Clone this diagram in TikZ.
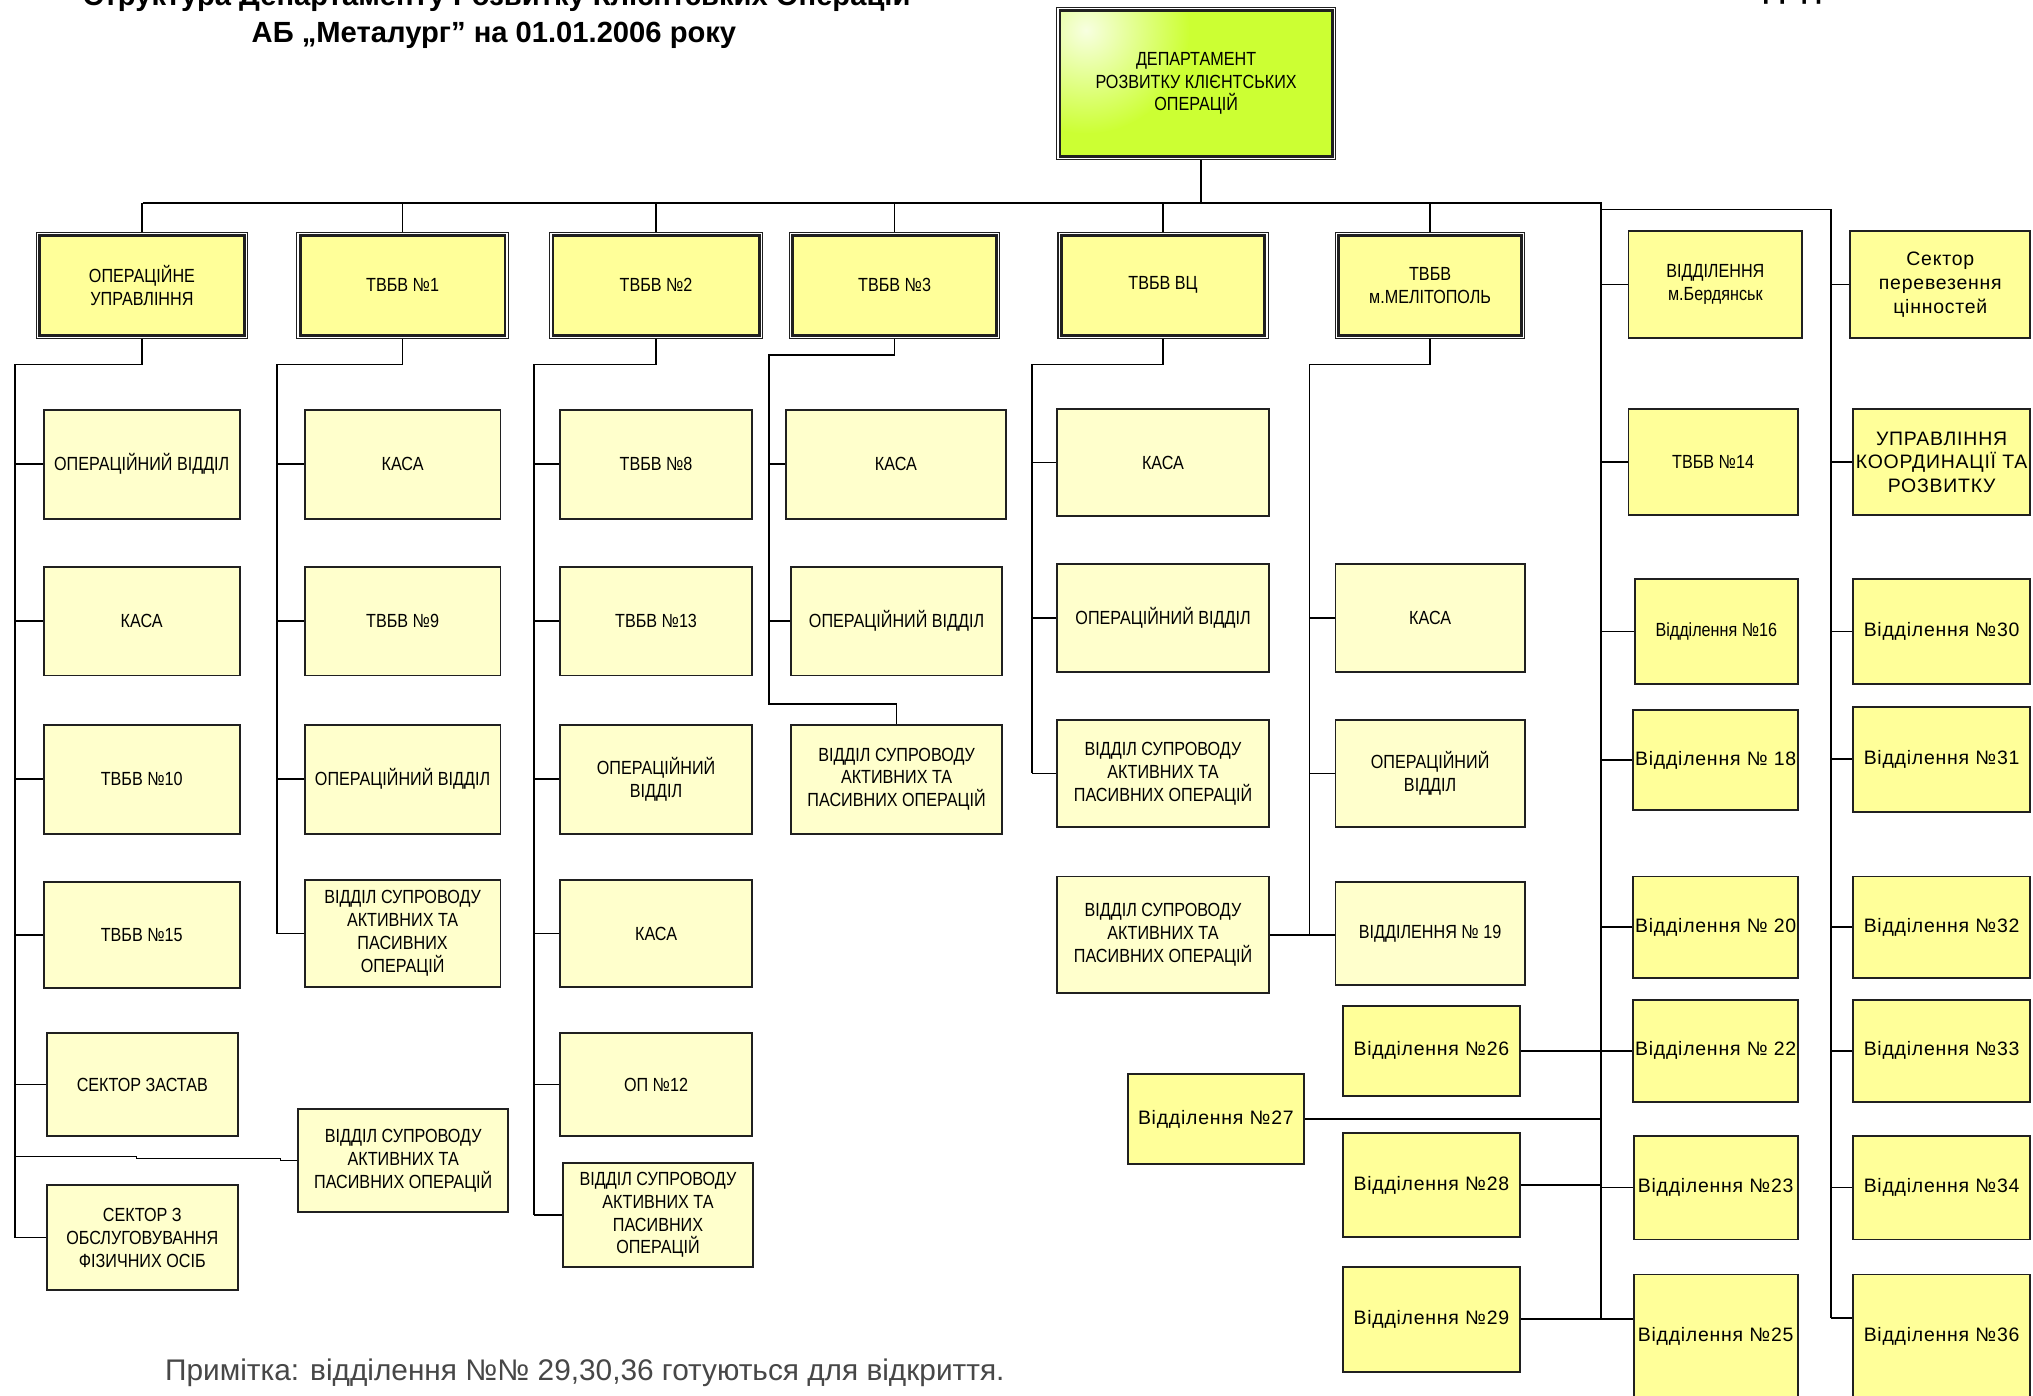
\documentclass[tikz,border=0pt]{standalone}
\usepackage{fontspec}
\setmainfont{Liberation Sans}
\newfontfamily\nar[FakeStretch=0.85]{Liberation Sans}
\newfontfamily\reg[LetterSpace=4]{Liberation Sans}
\usetikzlibrary{calc}
\definecolor{ytop}{HTML}{FFFF99}
\definecolor{ypale}{HTML}{FFFFCC}
\definecolor{ysat}{HTML}{FFFF99}
\definecolor{deptgreen}{HTML}{CCFF33}
\definecolor{bord}{HTML}{202020}
\tikzset{
  box/.style={draw=bord, line width=0.9pt, inner sep=1pt, align=center,
    font=\nar\fontsize{8.8}{10.6}\selectfont, text=black},
  pale/.style={box, fill=ypale},
  sat/.style={box, fill=ysat},
  satr/.style={sat, font=\reg\fontsize{9}{11}\selectfont},
  outerbox/.style={draw=bord, line width=0.5pt, fill=white, inner sep=0pt},
  topin/.style={draw=bord, line width=1.3pt, fill=ytop, inner sep=1pt, align=center,
    font=\nar\fontsize{8.8}{10.6}\selectfont, text=black},
  deptin/.style={topin, path picture={
    \fill[deptgreen] (path picture bounding box.south west) rectangle (path picture bounding box.north east);
    \shade[inner color=white!85!deptgreen, outer color=deptgreen]
      ($(path picture bounding box.north west)+(12pt,-9pt)$) circle (48pt);}},
  conn/.style={draw=black, line width=0.75pt},
}
% #1 style, #2 name, #3 x1, #4 y1, #5 x2, #6 y2, #7 text
\newcommand\Bx[7]{\node[#1, minimum width={(#5-#3)*0.6pt}, minimum height={(#6-#4)*0.6pt}] (#2) at ({(#3+#5)/2},{(#4+#6)/2}) {#7};}
% double-bordered box: #1 name, #2-#5 coords, #6 inner style, #7 text
\newcommand\Tb[7]{%
  \node[outerbox, minimum width={(#4-#2)*0.6pt}, minimum height={(#5-#3)*0.6pt}] (#1) at ({(#2+#4)/2},{(#3+#5)/2}) {};
  \node[#6, minimum width={(#4-#2-5)*0.6pt}, minimum height={(#5-#3-5)*0.6pt}] (#1-in) at (#1.center) {#7};}
\begin{document}
\begin{tikzpicture}[x=0.6pt,y=-0.6pt]
\useasboundingbox[fill=white] (0,0) rectangle (1568,1076);

% titles
\node[anchor=base, inner sep=0pt, font=\bfseries\fontsize{13.5}{16}\selectfont] (t1) at (383,4) {Структура Департаменту Розвитку Клієнтських Операцій};
\node[anchor=base, inner sep=0pt, font=\bfseries\fontsize{13.5}{16}\selectfont] (t2) at (381,33) {АБ „Металург” на 01.01.2006 року};
\node[anchor=base west, inner sep=0pt, font=\bfseries\fontsize{13.5}{16}\selectfont] (t3) at (1360,-1) {Додаток};

% department
\Tb{dept}{815}{5.7}{1030}{123}{deptin}{ДЕПАРТАМЕНТ\\РОЗВИТКУ КЛІЄНТСЬКИХ\\ОПЕРАЦІЙ}

% top row
\Tb{b1}{28}{179}{191}{261}{topin}{ОПЕРАЦІЙНЕ\\УПРАВЛІННЯ}
\Tb{b2}{229}{179}{392}{261}{topin}{ТВБВ №1}
\Tb{b3}{424}{179}{588}{261}{topin}{ТВБВ №2}
\Tb{b4}{609}{179}{771}{261}{topin}{ТВБВ №3}
\Tb{b5}{816}{179}{978}{261}{topin}{ТВБВ ВЦ}
\Tb{b6}{1030}{179}{1176}{261}{topin}{ТВБВ\\м.МЕЛІТОПОЛЬ}

% column 1
\Bx{pale}{r11}{33.6}{316}{185}{400}{ОПЕРАЦІЙНИЙ ВІДДІЛ}
\Bx{pale}{r12}{33.6}{437}{185}{521}{КАСА}
\Bx{pale}{r13}{33.6}{559}{185}{643}{ТВБВ №10}
\Bx{pale}{r14}{33.6}{680}{185}{762}{ТВБВ №15}
\Bx{pale}{r15}{36}{797}{183.5}{876}{СЕКТОР ЗАСТАВ}
\Bx{pale}{r16}{230}{855}{392}{935}{ВІДДІЛ СУПРОВОДУ\\АКТИВНИХ ТА\\ПАСИВНИХ ОПЕРАЦІЙ}
\Bx{pale}{r17}{36}{914}{183.5}{995}{СЕКТОР З\\ОБСЛУГОВУВАННЯ\\ФІЗИЧНИХ ОСІБ}

% column 2
\Bx{pale}{r21}{235}{316}{386}{400}{КАСА}
\Bx{pale}{r22}{235}{437}{386}{521}{ТВБВ №9}
\Bx{pale}{r23}{235}{559}{386}{643}{ОПЕРАЦІЙНИЙ ВІДДІЛ}
\Bx{pale}{r24}{235}{679}{386}{761}{ВІДДІЛ СУПРОВОДУ\\АКТИВНИХ ТА\\ПАСИВНИХ\\ОПЕРАЦІЙ}

% column 3
\Bx{pale}{r31}{432}{316}{580}{400}{ТВБВ №8}
\Bx{pale}{r32}{432}{437}{580}{521}{ТВБВ №13}
\Bx{pale}{r33}{432}{559}{580}{643}{ОПЕРАЦІЙНИЙ\\ВІДДІЛ}
\Bx{pale}{r34}{432}{679}{580}{761}{КАСА}
\Bx{pale}{r35}{432}{797}{580}{876}{ОП №12}
\Bx{pale}{r36}{434}{897}{581}{977}{ВІДДІЛ СУПРОВОДУ\\АКТИВНИХ ТА\\ПАСИВНИХ\\ОПЕРАЦІЙ}

% column 4
\Bx{pale}{r41}{606}{316}{776}{400}{КАСА}
\Bx{pale}{r42}{610}{437}{773}{521}{ОПЕРАЦІЙНИЙ ВІДДІЛ}
\Bx{pale}{r43}{610}{559}{773}{643}{ВІДДІЛ СУПРОВОДУ\\АКТИВНИХ ТА\\ПАСИВНИХ ОПЕРАЦІЙ}

% column 5
\Bx{pale}{r51}{815}{315.5}{979}{398}{КАСА}
\Bx{pale}{r52}{815}{435}{979}{518}{ОПЕРАЦІЙНИЙ ВІДДІЛ}
\Bx{pale}{r53}{815}{555}{979}{638}{ВІДДІЛ СУПРОВОДУ\\АКТИВНИХ ТА\\ПАСИВНИХ ОПЕРАЦІЙ}
\Bx{pale}{r54}{815}{676}{979}{766}{ВІДДІЛ СУПРОВОДУ\\АКТИВНИХ ТА\\ПАСИВНИХ ОПЕРАЦІЙ}

% column 6
\Bx{pale}{r61}{1030}{435}{1176}{518}{КАСА}
\Bx{pale}{r62}{1030}{555}{1176}{638}{ОПЕРАЦІЙНИЙ\\ВІДДІЛ}
\Bx{pale}{r63}{1030}{680}{1176}{760}{ВІДДІЛЕННЯ № 19}

% column 7
\Bx{sat}{r71}{1256}{178}{1390}{261}{ВІДДІЛЕННЯ\\м.Бердянськ}
\Bx{sat}{r72}{1256}{315.5}{1386.5}{397.5}{ТВБВ №14}
\Bx{sat}{r73}{1261}{446.5}{1386.5}{527.5}{Відділення №16}
\Bx{satr}{r74}{1260}{547.5}{1386.5}{625}{Відділення № 18}
\Bx{satr}{r75}{1260}{676}{1386.5}{754}{Відділення № 20}
\Bx{satr}{r76}{1260}{771}{1386.5}{850}{Відділення № 22}
\Bx{satr}{r77}{1260}{876}{1386.5}{956}{Відділення №23}
\Bx{satr}{r78}{1260}{983}{1386.5}{1078}{Відділення №25}
\Bx{satr}{rA}{1036}{776}{1172}{845}{Відділення №26}
\Bx{satr}{rB}{870}{828}{1005.5}{898}{Відділення №27}
\Bx{satr}{rC}{1036}{874}{1172}{954}{Відділення №28}
\Bx{satr}{r79}{1036}{977}{1172}{1058}{Відділення №29}

% column 8
\Bx{satr}{r81}{1427}{178}{1566}{261}{Сектор\\перевезення\\цінностей}
\Bx{satr}{r82}{1429}{315.5}{1566}{397.5}{УПРАВЛІННЯ\\КООРДИНАЦІЇ ТА\\РОЗВИТКУ}
\Bx{satr}{r83}{1429}{446.5}{1566}{527.5}{Відділення №30}
\Bx{satr}{r84}{1429}{545}{1566}{626}{Відділення №31}
\Bx{satr}{r85}{1429}{676}{1566}{754}{Відділення №32}
\Bx{satr}{r86}{1429}{771}{1566}{850}{Відділення №33}
\Bx{satr}{r87}{1429}{876}{1566}{956}{Відділення №34}
\Bx{satr}{r88}{1429}{983}{1566}{1078}{Відділення №36}

% note
\node[anchor=base west, inner sep=0pt, text=black!72, font=\fontsize{13.8}{16}\selectfont] (note) at (127,1065) {Примітка: відділення №№ 29,30,36 готуються для відкриття.};

% ---------- connectors ----------
\coordinate (busL) at (110,156.5);
\coordinate (busR) at (1235,156.5);
\coordinate (bus2L) at (1235,161.5);
\coordinate (bus2R) at (1412,161.5);
\coordinate (c7end) at (1235,1017.5);
\coordinate (c8end) at (1412,1016.5);
\draw[conn] ([xshift=2.4pt]dept.south) -- ([xshift=2.4pt]dept.south |- busL);
\draw[conn] (busL) -- (busR) -- (c7end);
\draw[conn] (bus2L) -- (bus2R) -- (c8end);
\foreach \n in {b1,b2,b3,b4,b5,b6} \draw[conn] (\n.north) -- (\n.north |- busL);

% column 1
\coordinate (c1) at (11.5,281);
\draw[conn] (b1.south) |- (c1) -- (c1 |- r17.west);
\foreach \n in {r11,r12,r13,r14,r15,r17} \draw[conn] (c1 |- \n.west) -- (\n.west);
\draw[conn] (r16.west) -- ++(-13,0) -- ++(0,-1.5) -- ++(-111,0) -- ++(0,-1.5) -- (c1 |- 0,892);

% column 2
\coordinate (c2) at (213.5,281);
\draw[conn] (b2.south) |- (c2) -- (c2 |- r24.west);
\foreach \n in {r21,r22,r23,r24} \draw[conn] (c2 |- \n.west) -- (\n.west);

% column 3
\coordinate (c3) at (412,281);
\draw[conn] (b3.south) |- (c3) -- (c3 |- r36.west);
\foreach \n in {r31,r32,r33,r34,r35,r36} \draw[conn] (c3 |- \n.west) -- (\n.west);

% column 4
\coordinate (c4) at (593,274);
\coordinate (c4b) at (593,543);
\draw[conn] (b4.south) |- (c4) -- (c4b) -| (r43.north);
\foreach \n in {r41,r42} \draw[conn] (c4 |- \n.west) -- (\n.west);

% column 5
\coordinate (c5) at (796,281);
\draw[conn] (b5.south) |- (c5) -- (c5 |- r53.west);
\foreach \n in {r51,r52,r53} \draw[conn] (c5 |- \n.west) -- (\n.west);

% column 6
\coordinate (c6) at (1010,281);
\draw[conn] (b6.south) |- (c6) -- (c6 |- r63.west);
\foreach \n in {r61,r62} \draw[conn] (c6 |- \n.west) -- (\n.west);
\draw[conn] (r54.east) -- (r54.east -| r63.west);

% column 7
\foreach \n in {r71,r72,r73,r74,r75,r76,r77} \draw[conn] (busR |- \n.west) -- (\n.west);
\draw[conn] (c7end) -- (c7end -| r78.west);
\foreach \n in {rA,rB,rC,r79} \draw[conn] (\n.east) -- (\n.east -| busR);

% column 8
\foreach \n in {r81,r82,r83,r84,r85,r86,r87} \draw[conn] (bus2R |- \n.west) -- (\n.west);
\draw[conn] (c8end) -- (c8end -| r88.west);
\end{tikzpicture}
\end{document}
